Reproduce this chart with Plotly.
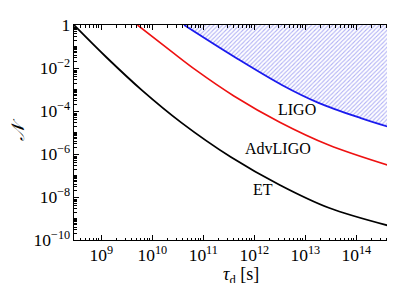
import plotly.graph_objects as go

# Data, stored as log10 values (tau_d in s, N dimensionless)
et_logtau = [8.465, 9.10, 9.80, 10.57, 11.54, 12.50, 13.46, 14.76]
et_logN   = [0.0, -1.50, -3.04, -4.54, -6.14, -7.44, -8.50, -9.41]

adv_logtau = [9.71, 10.38, 10.85, 11.60, 12.50, 13.46, 14.76]
adv_logN   = [0.0, -1.24, -2.09, -3.30, -4.52, -5.58, -6.62]

ligo_logtau = [10.625, 11.63, 12.55, 13.26, 14.09, 14.76]
ligo_logN   = [0.0, -1.51, -2.80, -3.62, -4.33, -4.83]

x_range_log = [8.465, 14.76]
y_range_log = [-10, 0]

curve_labels = ["LIGO", "AdvLIGO", "ET"]
label_logx = [12.83, 12.46, 12.17]
label_logy = [-3.93, -5.73, -7.64]

to_lin = lambda arr: [10 ** v for v in arr]

fig = go.Figure()

# hatched excluded region above LIGO curve
fig.add_trace(go.Scatter(
    x=to_lin(ligo_logtau) + [10 ** ligo_logtau[-1], 10 ** ligo_logtau[0]],
    y=to_lin(ligo_logN) + [1.0, 1.0],
    fill="toself", mode="none",
    fillcolor="rgba(0,0,0,0)",
    fillpattern=dict(shape="/", fgcolor="rgba(70,70,230,0.85)", bgcolor="rgba(255,255,255,0)",
                     size=3, solidity=0.35),
    hoverinfo="skip", showlegend=False))

line_shape = dict(shape="spline", smoothing=1.0)
fig.add_trace(go.Scatter(x=to_lin(et_logtau), y=to_lin(et_logN), mode="lines",
                         line=dict(color="black", width=1.8, **line_shape), showlegend=False))
fig.add_trace(go.Scatter(x=to_lin(adv_logtau), y=to_lin(adv_logN), mode="lines",
                         line=dict(color="#ee1111", width=1.6, **line_shape), showlegend=False))
fig.add_trace(go.Scatter(x=to_lin(ligo_logtau), y=to_lin(ligo_logN), mode="lines",
                         line=dict(color="#1a1aee", width=1.8, **line_shape), showlegend=False))

for txt, lx, ly in zip(curve_labels, label_logx, label_logy):
    fig.add_annotation(x=lx, y=ly, text=txt, showarrow=False,
                       font=dict(family="Liberation Serif", size=16, color="black"))

# x-axis title placed as an annotation for precise position
fig.add_annotation(x=0.52, y=-0.163, xref="paper", yref="paper", yanchor="middle",
                   text="<i>τ</i><sub>d</sub> [s]", showarrow=False,
                   font=dict(family="Liberation Serif", size=18, color="black"))

axis_common = dict(
    showline=True, linecolor="black", linewidth=1, mirror="ticks",
    ticks="inside", ticklen=5, tickcolor="black", tickwidth=1,
    showgrid=False, zeroline=False, exponentformat="power",
    tickfont=dict(family="Liberation Serif", size=14, color="black"),
    minor=dict(ticks="inside", ticklen=2.5, tickcolor="black", dtick="D1", showgrid=False),
)

fig.update_xaxes(type="log", range=x_range_log, dtick=1, ticklabelstandoff=0, **axis_common)
fig.update_yaxes(type="log", range=y_range_log, dtick=2,
                 title=dict(text="<i>𝒩</i>",
                            font=dict(family="Liberation Serif", size=18, color="black"), standoff=6),
                 **axis_common)

fig.update_layout(width=395, height=283, margin=dict(l=59, r=7, t=12, b=51),
                  plot_bgcolor="white", paper_bgcolor="white")

fig.write_html("out.html")
